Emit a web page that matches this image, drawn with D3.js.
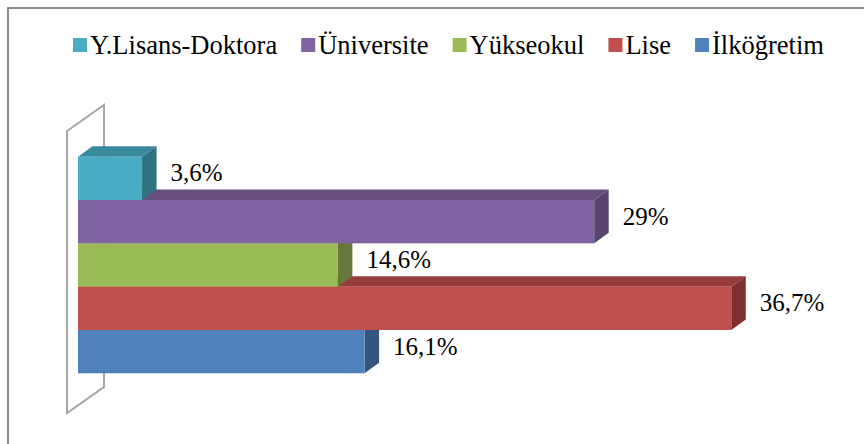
<!DOCTYPE html>
<html>
<head>
<meta charset="utf-8">
<script src="https://cdn.jsdelivr.net/npm/d3@7.9.0/dist/d3.min.js"></script>
</head>
<body style="margin:0">
<svg width="864" height="444"></svg>
<script>
// chart data, top bar first
const categories = ["Y.Lisans-Doktora", "Üniversite", "Yükseokul", "Lise", "İlköğretim"];
const values = [3.6, 29, 14.6, 36.7, 16.1];
const valueLabels = ["3,6%", "29%", "14,6%", "36,7%", "16,1%"];
const frontColors = ["#4bacc6", "#8064a2", "#9bbb59", "#c0504d", "#4f81bd"];
const topColors = ["#3a8a9f", "#674f80", "#7a9445", "#953c3a", "#3d6594"];
const sideColors = ["#2f7282", "#58446e", "#66793a", "#7e2f2e", "#34557d"];

let svg = d3.select("svg");

// legend
let legend = svg.append("g");
let lx = 73;
categories.forEach((c, i) => {
    let t = legend.append("text")
        .attr("x", lx + 17).attr("y", 54)
        .attr("font-family", "Liberation Serif")
        .attr("font-size", 26.5)
        .text(c);
    legend.append("rect")
        .attr("x", lx).attr("y", 38)
        .attr("width", 14).attr("height", 14)
        .attr("fill", frontColors[i]);
    lx += 17 + t.node().getComputedTextLength() + 24;
});

// outer frame (only left and top edges fall inside the picture)
svg.append("path")
    .attr("d", "M8,444 L8,8 L864,8")
    .attr("fill", "none")
    .attr("stroke", "#8c8c8c")
    .attr("stroke-width", 2);

let x = d3.scaleLinear().domain([0, 40]).range([78, 790]);
let y = d3.scaleBand().domain(categories).range([156.7, 373.3]).padding(0);

const dx = 14.5, dy = -10.5;   // bar depth offset

// back wall (3d panel behind the bars)
const wx = 67, wTop = 131, wBottom = 413, wdx = 37, wdy = -26;
svg.append("path")
    .attr("d", `M${wx},${wTop} L${wx + wdx},${wTop + wdy} L${wx + wdx},${wBottom + wdy} L${wx},${wBottom} Z`)
    .attr("fill", "none")
    .attr("stroke", "#a6a6a6")
    .attr("stroke-width", 2);

// draw from bottom bar to top so upper bars overlap lower ones
let bars = categories.map((c, i) => ({ cat: c, value: values[i], label: valueLabels[i], i }));
let order = bars.slice().reverse();

let g = svg.append("g");
order.forEach(d => {
    let x0 = x(0), x1 = x(d.value);
    let y0 = y(d.cat), y1 = y(d.cat) + y.bandwidth();
    // top face
    g.append("path")
        .attr("d", `M${x0},${y0} L${x0 + dx},${y0 + dy} L${x1 + dx},${y0 + dy} L${x1},${y0} Z`)
        .attr("fill", topColors[d.i]);
    // side face
    g.append("path")
        .attr("d", `M${x1},${y0} L${x1 + dx},${y0 + dy} L${x1 + dx},${y1 + dy} L${x1},${y1} Z`)
        .attr("fill", sideColors[d.i]);
    // front face
    g.append("rect")
        .attr("x", x0).attr("y", y0)
        .attr("width", x1 - x0).attr("height", y1 - y0)
        .attr("fill", frontColors[d.i]);
});

// value labels
bars.forEach(d => {
    svg.append("text")
        .attr("x", x(d.value) + dx + 14)
        .attr("y", y(d.cat) + y.bandwidth() / 2 + 3)
        .attr("font-family", "Liberation Serif")
        .attr("font-size", 25)
        .text(d.label);
});
</script>
</body>
</html>
